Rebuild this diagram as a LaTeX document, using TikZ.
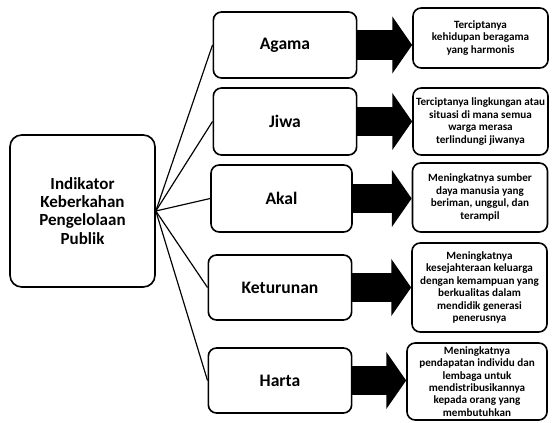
\documentclass[tikz,border=0pt]{standalone}
\usepackage{fontspec}
\setmainfont{Carlito}
\usetikzlibrary{arrows.meta}

\begin{document}
\begin{tikzpicture}[x=0.03cm,y=-0.03cm,
    kotak/.style={draw,line width=1.4pt,rounded corners=7pt,align=center,
        font=\bfseries,inner sep=2pt},
    induk/.style={kotak,rounded corners=10pt,minimum width=4.35cm,minimum height=4.56cm,
        font=\fontsize{14.5}{15.5}\selectfont\bfseries},
    aspek/.style={kotak,minimum width=4.3cm,font=\fontsize{15}{17}\selectfont\bfseries},
    hasil/.style={kotak,minimum width=4.05cm,font=\fontsize{9.5}{10.6}\selectfont\bfseries},
    panah/.style={line width=25pt,-{Triangle[length=17pt,width=48pt]}},
    garis/.style={line width=1pt}]
    \useasboundingbox (0,0) rectangle (552,423);
    % kotak indikator
    \node[induk] (ind) at (82.5,211) {Indikator\\Keberkahan\\Pengelolaan\\Publik};
    % lima aspek
    \node[aspek,minimum height=1.98cm] (agama) at (285,45) {Agama};
    \node[aspek,minimum height=2.01cm] (jiwa) at (285,121.5) {Jiwa};
    \node[aspek,minimum height=2.01cm,minimum width=4.23cm] (akal) at (281.5,198.5) {Akal};
    \node[aspek,minimum height=1.95cm] (keturunan) at (280,287.5) {Keturunan};
    \node[aspek,minimum height=1.95cm] (harta) at (280,380.5) {Harta};
    % hasil
    \node[hasil,minimum height=1.8cm] (h1) at (480.5,38)
        {Terciptanya\\kehidupan beragama\\yang harmonis};
    \node[hasil,minimum height=2.01cm] (h2) at (480.5,121.5)
        {Terciptanya lingkungan atau\\situasi di mana semua\\warga merasa\\terlindungi jiwanya};
    \node[hasil,minimum height=2.07cm] (h3) at (480,197.5)
        {Meningkatnya sumber\\daya manusia yang\\beriman, unggul, dan\\terampil};
    \node[hasil,minimum height=2.67cm] (h4) at (479.5,287.5)
        {Meningkatnya\\kesejahteraan keluarga\\dengan kemampuan yang\\berkualitas dalam\\mendidik generasi\\penerusnya};
    \node[hasil,minimum height=2.31cm,minimum width=4.2cm] (h5) at (477,381.5)
        {Meningkatnya\\pendapatan individu dan\\lembaga untuk\\mendistribusikannya\\kepada orang yang\\membutuhkan};
    % garis dari indikator
    \foreach \a in {agama,jiwa,akal,keturunan,harta}
        \draw[garis] (ind.east) -- (\a.west);
    % panah ke hasil
    \draw[panah] (agama.east) -- (agama.east -| h1.west);
    \draw[panah] (jiwa.east) -- (jiwa.east -| h2.west);
    \draw[panah] (akal.east) -- (akal.east -| h3.west);
    \draw[panah] (keturunan.east) -- (keturunan.east -| h4.west);
    \draw[panah] (harta.east) -- (harta.east -| h5.west);
\end{tikzpicture}
\end{document}
